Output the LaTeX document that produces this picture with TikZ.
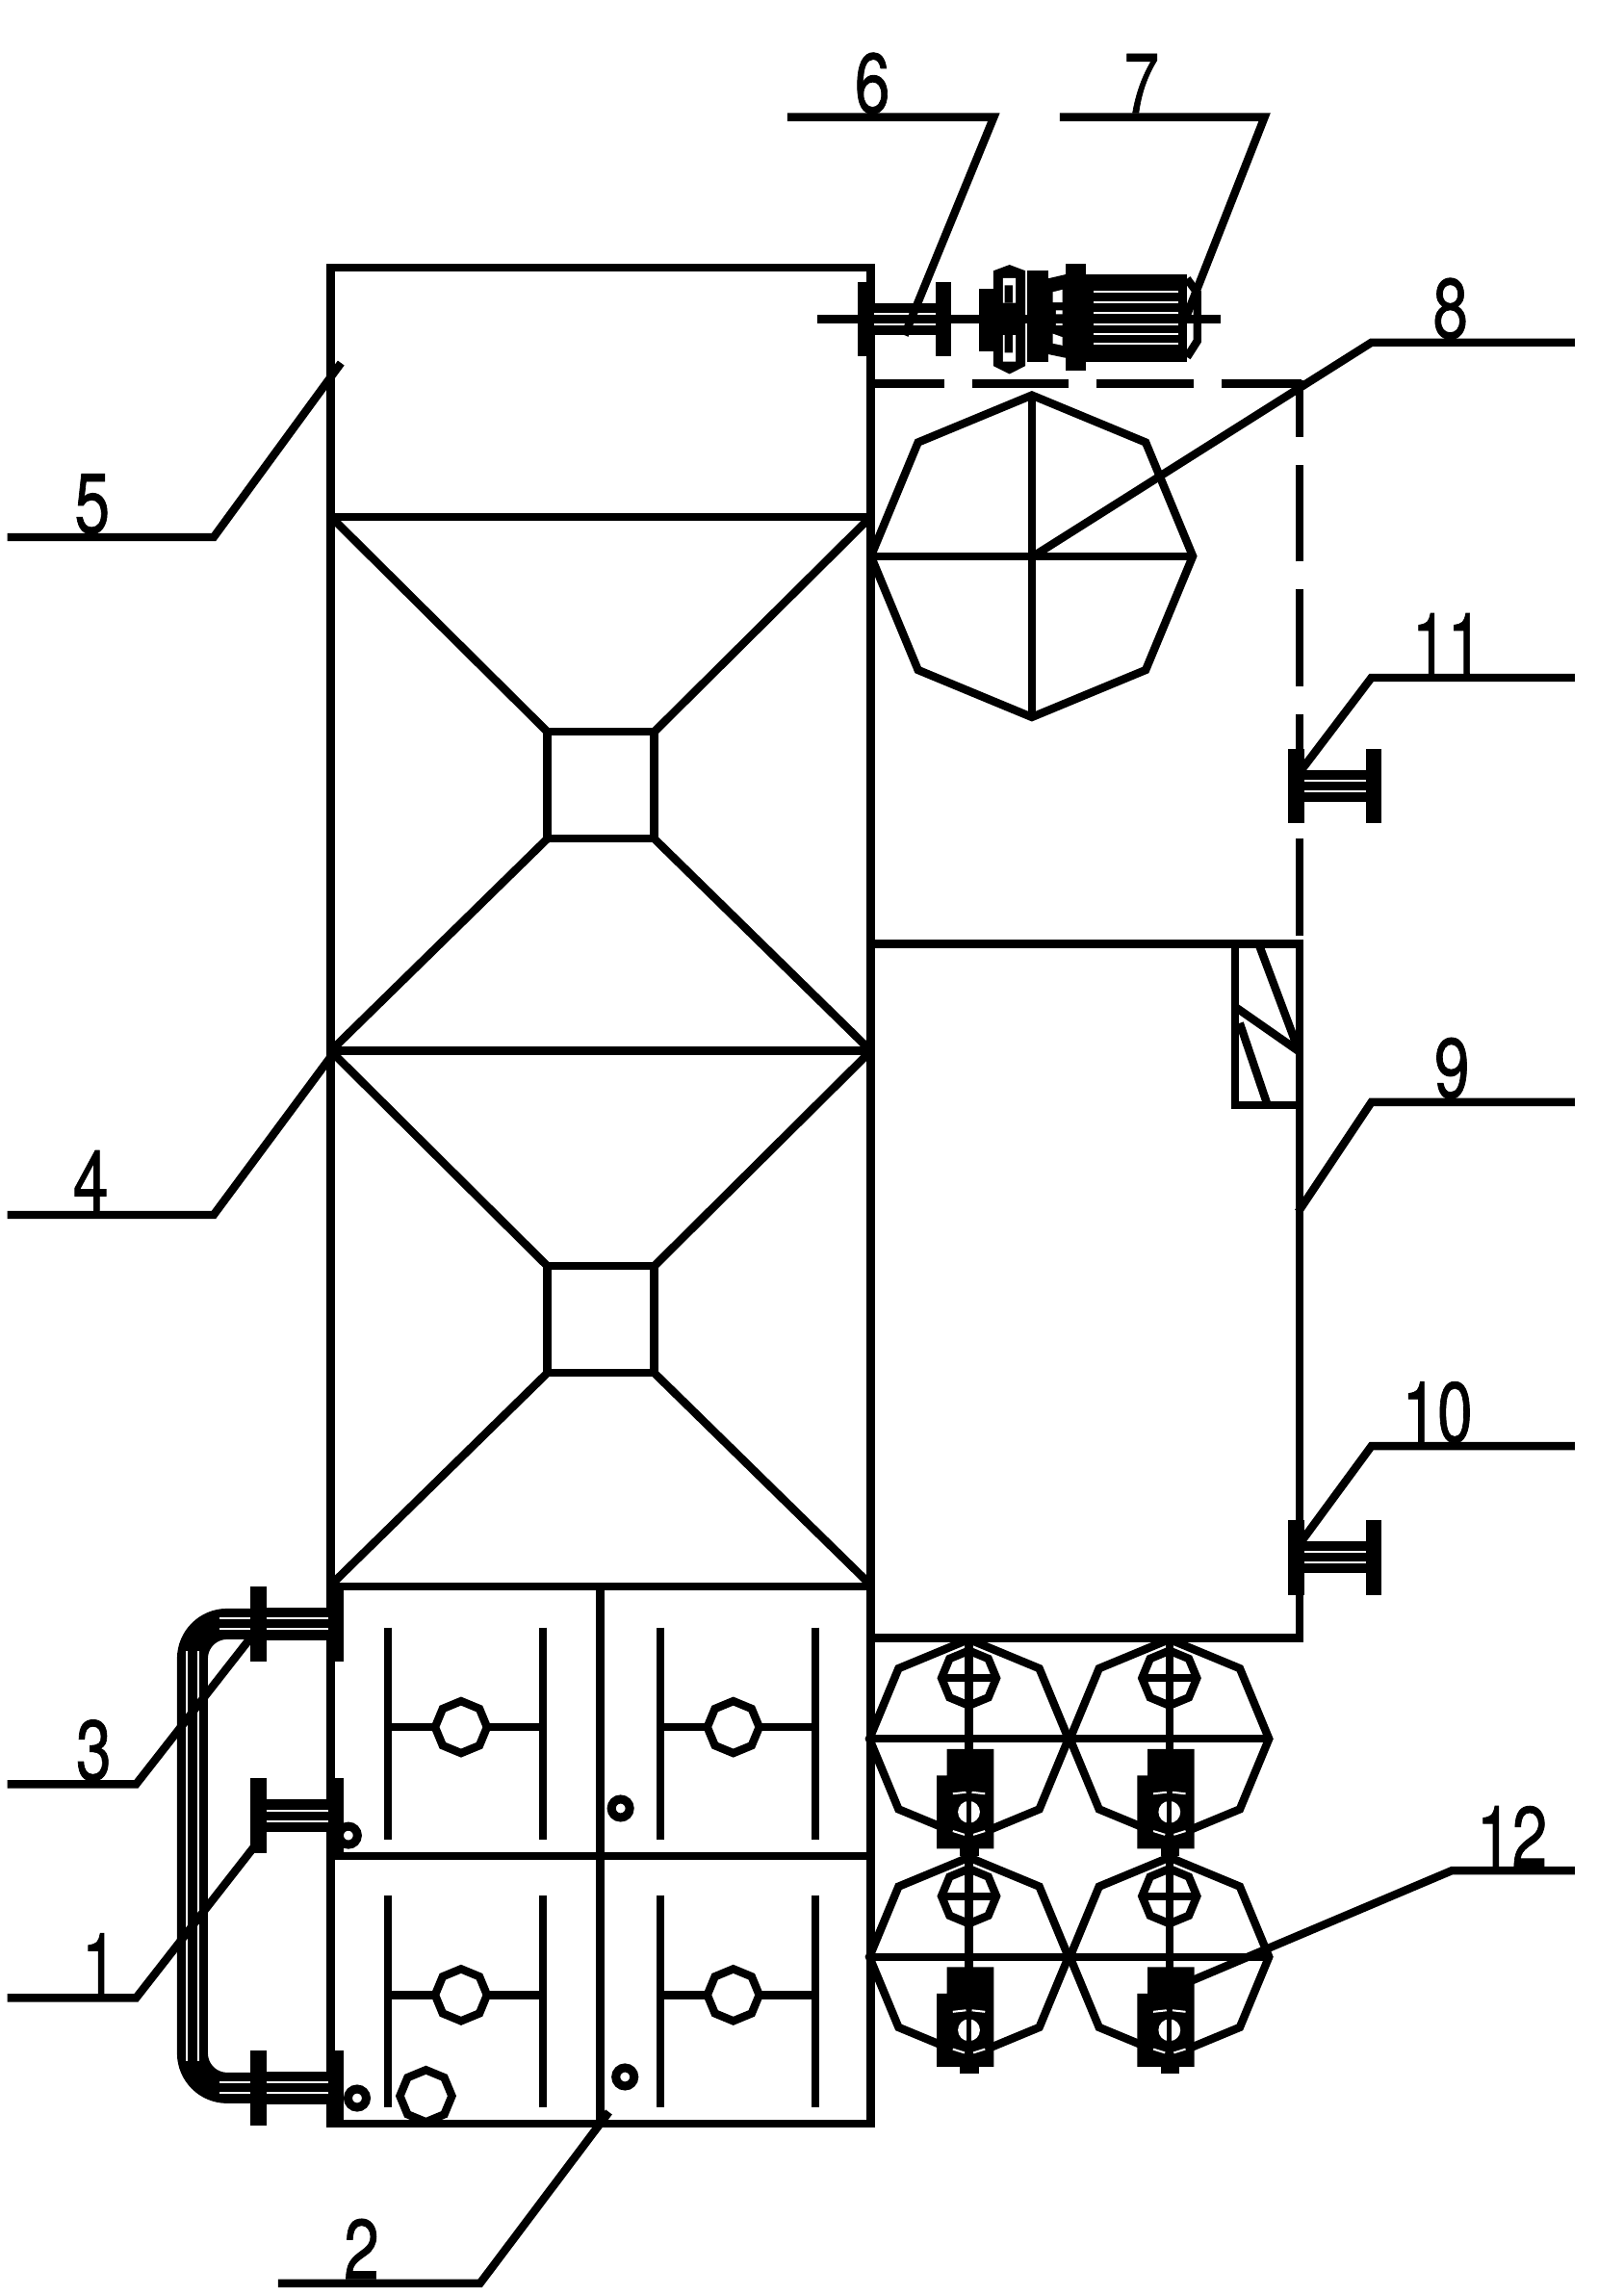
\documentclass[tikz,border=0pt]{standalone}
\usepackage{fontspec}
\newfontfamily\numfont[FakeBold=1]{TeX Gyre Heros}
\usetikzlibrary{shapes.geometric}
\tikzstyle{num} = [anchor=base,inner sep=0,outer sep=0,xscale=.75,font=\fontsize{44}{44}\numfont]
\tikzstyle{octa} = [regular polygon,regular polygon sides=8,shape border rotate=22.5,inner sep=0,outer sep=0,draw]
\tikzstyle{ring} = [circle,minimum size=9.5pt,inner sep=0,outer sep=0,draw,line width=4.5pt]
\tikzstyle{slit} = [white,line width=1pt]
\begin{document}
\begin{tikzpicture}[x=.7602pt,y=-.7602pt,line width=4.2pt]
\useasboundingbox (0,0) rectangle (1109,1568);
% tower
\draw (226,183) rectangle (595,1451);
\draw (226,353)--(595,353) (226,718)--(595,718) (226,1084)--(595,1084) (226,1268)--(595,1268) (410,1084)--(410,1451);
\foreach \ty in {353,718}{
\draw (374,\ty+147) rectangle (447,\ty+220);
\draw (226,\ty)--(374,\ty+147) (595,\ty)--(447,\ty+147) (226,\ty+365)--(374,\ty+220) (595,\ty+365)--(447,\ty+220);
}
% side box with dashed part
\draw (595,645)--(888,645)--(888,1119)--(595,1119);
\draw (844,645)--(844,755)--(888,755);
\draw (860,645)--(887,717) (844,688)--(887,718) (847,699)--(866,755);
\draw[dash pattern=on 50.2pt off 14.5pt,dash phase=13.7pt] (597,262)--(889,262);
\draw[dash pattern=on 50.2pt off 14.5pt] (888,639)--(888,260);
\node[octa,minimum size=167.2pt] (bigocta) at (705,380) {};
\draw (bigocta.west)--(bigocta.east) (bigocta.north)--(bigocta.south);
% compartments
\foreach \cx/\cy/\n in {315/1180/a,501/1180/b,315/1363/c,501/1363/d}{
\draw (\cx-50,\cy-68)--(\cx-50,\cy+77) (\cx+56,\cy-68)--(\cx+56,\cy+77) (\cx-50,\cy)--(\cx+56,\cy);
\node[octa,fill=white,minimum size=27pt] (comp\n) at (\cx,\cy) {};
}
\node[octa,minimum size=27pt] (compe) at (291,1432) {};
\node[ring] (ringa) at (238,1254) {};
\node[ring] (ringb) at (424,1235.5) {};
\node[ring] (ringc) at (244,1433.5) {};
\node[ring] (ringd) at (427,1419) {};
% header pipe
\draw[line width=16pt,rounded corners=18] (176,1109.5)--(131.5,1109.5)--(131.5,1426.5)--(176,1426.5);
\draw[slit] (127.5,1128)--(127.5,1408) (135.5,1128)--(135.5,1408);
\draw[slit] (150,1105.9)--(176,1105.9) (150,1113.1)--(176,1113.1) (150,1422.9)--(176,1422.9) (150,1430.1)--(176,1430.1);
% flanged pipes
\foreach \fx/\fy in {176.5/1109.5,176.5/1240.5,176.5/1426.5,591.5/218,885.5/537,885.5/1064}{
\begin{scope}[shift={(\fx,\fy)}]
\fill (0,-11) rectangle (53,11);
\fill (-5.5,-25.5) rectangle (5.5,25.5);
\fill (47.5,-25.5) rectangle (58.5,25.5);
\draw[slit] (5.5,-3.6)--(47.5,-3.6) (5.5,3.6)--(47.5,3.6);
\end{scope}
}
% top drive
\draw (558.6,218)--(834,218);
\fill (669,197) rectangle (680,240);
\fill (678.7,185)--(689.7,180.9)--(700.6,185)--(700.6,250)--(689.7,255.5)--(678.7,250)--cycle;
\fill[white] (685.3,190) rectangle (694,207) (685.3,229) rectangle (694,247);
\fill (686.4,195) rectangle (691.8,207) (686.4,229) rectangle (691.8,241);
\fill (678.7,207) rectangle (700.6,229);
\fill (701.5,185) rectangle (716,247);
\fill (716,190.3)--(728,187.5)--(728,244.5)--(716,242)--cycle;
\fill[white] (719.3,199.5)--(725.8,197.9)--(725.8,206.6)--(719.3,206.6)--cycle;
\fill[white] (719.3,228)--(725.8,230.3)--(725.8,236)--(719.3,234.6)--cycle;
\fill[white] (721.5,212) rectangle (725.8,214.6) (721.5,221) rectangle (725.8,222.2);
\fill (728,180) rectangle (742,253);
\fill (742,187.5) rectangle (811,247);
\foreach \sy in {199.5,206.7,213.9,221.5,228.2,234.8}{
\draw[white,line width=.9pt] (747,\sy)--(805,\sy);
}
\draw (811,190.5)--(818,200)--(818,233)--(811,244);
% fans with pumps
\foreach \cx/\cy/\n in {662/1188/a,799/1188/b,662/1337/c,799/1337/d}{
\begin{scope}[shift={(\cx,\cy)}]
\node[octa,minimum size=103.4pt] (fan\n) at (0,0) {};
\draw (fan\n.west)--(fan\n.east) (fan\n.north)--(0,60);
\node[octa,minimum size=28.5pt] (rotor\n) at (0,-41.5) {};
\draw (rotor\n.west)--(rotor\n.east);
\fill (-15,7)--(17,7)--(17,75)--(-22,75)--(-22,25)--(-15,25)--cycle;
\fill (-6,75) rectangle (7,80);
\fill[white] (0,50) circle (7.5);
\draw[line width=2.5pt] (0,42)--(0,58);
\draw[slit] (-11,37.5)--(-2,36.5) (2,36.5)--(11,37.5) (-11,63)--(-3,65.5) (3,65.5)--(11,63);
\end{scope}
}
% leaders and numbers
\draw (5,367)--(146,367)--(233,248);
\draw (5,830)--(146,830)--(226,722);
\draw (5,1219)--(93,1219)--(172,1118);
\draw (5,1365)--(93,1365)--(175,1260);
\draw (190,1560)--(328,1560)--(416,1443);
\draw (538,80)--(679,80)--(618,229);
\draw (724,80)--(864,80)--(811,215);
\draw (1076,234)--(937,234)--(706,380);
\draw (1076,463)--(937,463)--(890,525);
\draw (1076,753)--(937,753)--(887,828);
\draw (1076,988)--(937,988)--(890,1052);
\draw (1076,1278)--(992,1278)--(810,1355);
\node[num] (lab5) at (63,364) {5};
\node[num] (lab4) at (62,827) {4};
\node[num] (lab3) at (64,1216) {3};
\node[num] (lab1) at (68,1362) {1};
\node[num] (lab2) at (247,1557) {2};
\node[num] (lab6) at (596,77) {6};
\node[num] (lab7) at (780,77) {7};
\node[num] (lab8) at (991,231) {8};
\node[num] (lab11) at (989,460) {11};
\node[num] (lab9) at (992,750) {9};
\node[num] (lab10) at (982,985) {10};
\node[num] (lab12) at (1033,1275) {12};
\end{tikzpicture}
\end{document}
